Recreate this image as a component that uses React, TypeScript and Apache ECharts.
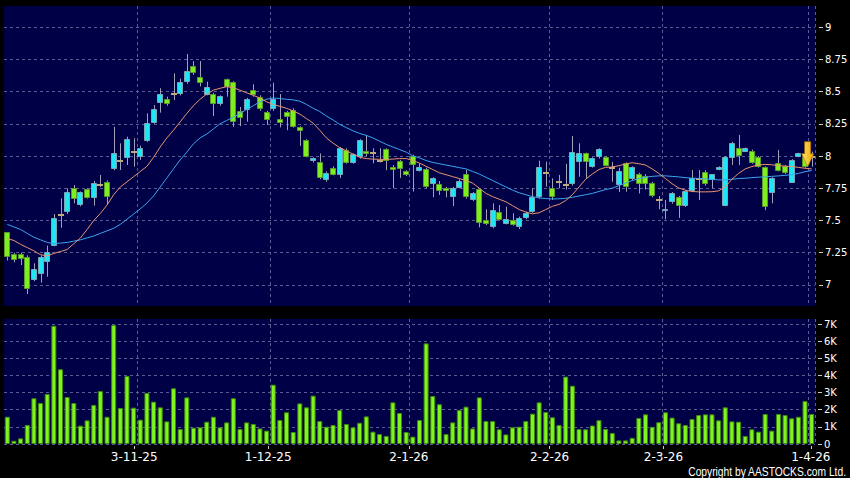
import React, { useEffect, useRef } from 'react';
import * as echarts from 'echarts';

// ---- trading days (categories) ----
const oct25 = [2, 3, 6, 8, 9, 10, 13, 14, 15, 16, 17, 20, 21, 22, 23, 24, 27, 28, 30, 31];
const nov25 = [3, 4, 5, 6, 7, 10, 11, 12, 13, 14, 17, 18, 19, 20, 21, 24, 25, 26, 27, 28];
const dec25 = [1, 2, 3, 4, 5, 8, 9, 10, 11, 12, 15, 16, 17, 18, 19, 22, 23, 24, 29, 30, 31];
const jan26 = [2, 5, 6, 7, 8, 9, 12, 13, 14, 15, 16, 19, 20, 21, 22, 23, 26, 27, 28, 29, 30];
const feb26 = [2, 3, 4, 5, 6, 9, 10, 11, 12, 13, 16, 20, 23, 24, 25, 26, 27];
const mar26 = [2, 3, 4, 5, 6, 9, 10, 11, 12, 13, 16, 17, 18, 19, 20, 23, 24, 25, 26, 27, 30, 31];
const apr26 = [1];

const categories: string[] = [
  ...oct25.map((d) => `${d}-10-25`),
  ...nov25.map((d) => `${d}-11-25`),
  ...dec25.map((d) => `${d}-12-25`),
  ...jan26.map((d) => `${d}-1-26`),
  ...feb26.map((d) => `${d}-2-26`),
  ...mar26.map((d) => `${d}-3-26`),
  ...apr26.map((d) => `${d}-4-26`),
];

const tickLabels = ['3-11-25', '1-12-25', '2-1-26', '2-2-26', '2-3-26', '1-4-26'];
const priceTicks = [7, 7.25, 7.5, 7.75, 8, 8.25, 8.5, 8.75, 9];
const volTicks = [0, 1000, 2000, 3000, 4000, 5000, 6000, 7000];

// ---- OHLC ----
const opens = [
  7.408, 7.238, 7.24, 7.22, 7.039, 7.085, 7.176, 7.302, 7.545, 7.563,
  7.754, 7.618, 7.744, 7.674, 7.775, 7.801, 7.897, 7.964, 7.982, 8.034,
  7.995, 8.114, 8.253, 8.408, 8.44, 8.478, 8.481, 8.571, 8.7, 8.615,
  8.475, 8.478, 8.4, 8.595, 8.571, 8.351, 8.357, 8.512, 8.46, 8.339,
  8.362, 8.287, 8.339, 8.357, 8.227, 8.124, 7.959, 7.956, 7.814, 7.91,
  7.853, 8.047, 7.949, 7.99, 8.041, 8.021, 7.959, 8.052, 7.912, 7.964,
  7.884, 8.0, 7.884, 7.897, 7.783, 7.783, 7.754, 7.685, 7.754, 7.858,
  7.659, 7.742, 7.504, 7.447, 7.568, 7.473, 7.504, 7.447, 7.517, 7.568,
  7.68, 7.87, 7.75, 7.8, 7.775, 7.783, 7.956, 8.021, 7.917, 7.99,
  7.99, 7.905, 7.775, 7.943, 7.819, 7.858, 7.847, 7.788, 7.659, 7.574,
  7.641, 7.685, 7.612, 7.729, 7.819, 7.878, 7.814, 7.891, 7.615, 7.987,
  8.06, 8.034, 8.041, 7.995, 7.912, 7.711, 7.948, 7.922, 7.793, 7.995,
  7.995, 7.995,
];
const closes = [
  7.22, 7.194, 7.2, 6.967, 7.122, 7.22, 7.258, 7.517, 7.545, 7.718,
  7.667, 7.718, 7.674, 7.788, 7.775, 7.68, 8.021, 7.964, 8.129, 8.034,
  8.06, 8.253, 8.362, 8.478, 8.4, 8.478, 8.576, 8.662, 8.641, 8.564,
  8.537, 8.4, 8.465, 8.532, 8.266, 8.292, 8.44, 8.473, 8.362, 8.279,
  8.44, 8.253, 8.305, 8.227, 8.196, 7.995, 7.984, 7.827, 7.871, 7.853,
  8.06, 7.949, 8.016, 8.124, 8.013, 8.021, 7.959, 7.964, 7.891, 7.897,
  7.853, 7.93, 7.917, 7.757, 7.827, 7.729, 7.729, 7.754, 7.809, 7.68,
  7.711, 7.478, 7.473, 7.581, 7.504, 7.509, 7.465, 7.517, 7.561, 7.685,
  7.912, 7.87, 7.685, 7.8, 7.775, 8.029, 8.021, 7.951, 7.982, 8.052,
  7.925, 7.905, 7.884, 7.762, 7.917, 7.78, 7.783, 7.69, 7.659, 7.587,
  7.711, 7.612, 7.729, 7.827, 7.819, 7.783, 7.858, 7.917, 7.99, 8.098,
  8.0, 8.06, 7.948, 7.917, 7.607, 7.827, 7.886, 7.866, 7.969, 8.021,
  7.917, 7.995,
];
const lows = [
  7.19, 7.176, 7.155, 6.93, 7.03, 7.018, 7.064, 7.3, 7.444, 7.55,
  7.633, 7.61, 7.67, 7.615, 7.76, 7.628, 7.89, 7.891, 7.93, 7.917,
  7.97, 8.11, 8.25, 8.336, 8.39, 8.434, 8.47, 8.56, 8.63, 8.54,
  8.47, 8.31, 8.39, 8.46, 8.227, 8.232, 8.266, 8.46, 8.35, 8.24,
  8.35, 8.222, 8.2, 8.22, 8.078, 7.99, 7.95, 7.82, 7.8, 7.85,
  7.83, 7.94, 7.94, 7.98, 8.0, 7.943, 7.95, 7.89, 7.75, 7.83,
  7.845, 7.724, 7.88, 7.75, 7.68, 7.698, 7.68, 7.612, 7.75, 7.67,
  7.65, 7.447, 7.465, 7.44, 7.5, 7.47, 7.46, 7.434, 7.51, 7.56,
  7.67, 7.762, 7.659, 7.75, 7.74, 7.77, 7.84, 7.827, 7.91, 7.98,
  7.92, 7.8, 7.72, 7.723, 7.81, 7.71, 7.74, 7.68, 7.587, 7.509,
  7.63, 7.52, 7.605, 7.72, 7.659, 7.77, 7.75, 7.89, 7.61, 7.93,
  7.93, 8.03, 7.94, 7.91, 7.58, 7.633, 7.88, 7.86, 7.79, 7.99,
  7.91, 7.917,
];
const highs = [
  7.41, 7.25, 7.25, 7.23, 7.168, 7.23, 7.305, 7.55, 7.672, 7.749,
  7.775, 7.725, 7.75, 7.806, 7.853, 7.81, 8.227, 8.098, 8.15, 8.137,
  8.08, 8.331, 8.395, 8.525, 8.46, 8.641, 8.6, 8.791, 8.736, 8.736,
  8.576, 8.49, 8.47, 8.6, 8.58, 8.38, 8.45, 8.556, 8.47, 8.35,
  8.568, 8.48, 8.35, 8.37, 8.23, 8.13, 7.99, 8.02, 7.88, 7.92,
  8.07, 8.06, 8.02, 8.13, 8.163, 8.06, 8.06, 8.06, 7.93, 7.97,
  7.89, 8.01, 7.943, 7.91, 7.835, 7.806, 7.76, 7.76, 7.82, 7.891,
  7.72, 7.75, 7.587, 7.633, 7.62, 7.607, 7.556, 7.53, 7.57, 7.75,
  7.964, 7.956, 7.827, 7.853, 7.94, 8.155, 8.098, 8.026, 7.99, 8.06,
  8.0, 7.953, 7.91, 7.95, 7.92, 7.87, 7.86, 7.8, 7.69, 7.659,
  7.72, 7.69, 7.735, 7.891, 7.891, 7.89, 7.86, 7.92, 8.0, 8.11,
  8.163, 8.065, 8.05, 8.0, 7.92, 7.835, 8.047, 7.93, 7.975, 8.025,
  8.0, 8.034,
];

// ---- moving averages ----
const maShort = [
  7.36, 7.345, 7.315, 7.29, 7.265, 7.235, 7.225, 7.245, 7.26, 7.275,
  7.32, 7.365, 7.43, 7.5, 7.555, 7.62, 7.7, 7.76, 7.8, 7.84,
  7.88, 7.92, 7.99, 8.07, 8.14, 8.2, 8.265, 8.33, 8.39, 8.44,
  8.48, 8.51, 8.525, 8.537, 8.53, 8.51, 8.49, 8.47, 8.45, 8.42,
  8.4, 8.385, 8.37, 8.35, 8.325, 8.29, 8.255, 8.2, 8.14, 8.1,
  8.065, 8.04, 8.015, 7.99, 7.98, 7.976, 7.974, 7.974, 7.976, 7.98,
  7.98, 7.965, 7.945, 7.92, 7.895, 7.87, 7.855, 7.84, 7.825, 7.81,
  7.79, 7.75, 7.71, 7.685, 7.665, 7.645, 7.615, 7.585, 7.565, 7.552,
  7.56, 7.585, 7.61, 7.625, 7.655, 7.7, 7.76, 7.82, 7.86, 7.895,
  7.912, 7.915, 7.925, 7.938, 7.948, 7.94, 7.93, 7.9, 7.865, 7.825,
  7.785, 7.752, 7.735, 7.725, 7.722, 7.722, 7.723, 7.73, 7.76, 7.82,
  7.865, 7.9, 7.918, 7.93, 7.935, 7.932, 7.925, 7.922, 7.918, 7.912,
  7.905, 7.9,
];
const maLong = [
  7.47, 7.45, 7.43, 7.4, 7.37, 7.35, 7.33, 7.32, 7.325, 7.33,
  7.34, 7.35, 7.365, 7.38, 7.4, 7.42, 7.44, 7.47, 7.51, 7.55,
  7.59, 7.635, 7.69, 7.76, 7.83, 7.9, 7.97, 8.03, 8.095, 8.14,
  8.17, 8.21, 8.25, 8.275, 8.3, 8.33, 8.36, 8.39, 8.42, 8.44,
  8.45, 8.445, 8.44, 8.435, 8.425, 8.4, 8.37, 8.345, 8.31, 8.28,
  8.245, 8.22, 8.195, 8.175, 8.16, 8.14, 8.115, 8.09, 8.07, 8.05,
  8.03, 8.0, 7.985, 7.965, 7.95, 7.94, 7.93, 7.92, 7.91, 7.9,
  7.88, 7.86, 7.835, 7.81, 7.785, 7.76, 7.735, 7.715, 7.7, 7.685,
  7.675, 7.67, 7.667, 7.668, 7.672, 7.68, 7.69, 7.7, 7.71, 7.725,
  7.74, 7.75, 7.77, 7.79, 7.81, 7.825, 7.835, 7.842, 7.846, 7.846,
  7.842, 7.838, 7.832, 7.828, 7.826, 7.822, 7.818, 7.815, 7.815, 7.82,
  7.825, 7.828, 7.832, 7.836, 7.838, 7.842, 7.846, 7.85, 7.855, 7.865,
  7.878, 7.888,
];

// ---- volume ----
const volumes = [
  1590, 190, 330, 1110, 2670, 2390, 2920, 6900, 4360, 2740,
  2390, 1070, 1380, 2280, 3090, 1590, 6940, 2100, 3970, 2120,
  1420, 2980, 2470, 2140, 1320, 3250, 875, 2720, 950, 970,
  1300, 1590, 970, 1260, 2670, 875, 1260, 1170, 910, 780,
  3460, 1400, 1850, 700, 2370, 2140, 2820, 1340, 1010, 1110,
  1980, 1170, 970, 1240, 1610, 720, 580, 470, 2430, 1810,
  700, 430, 1400, 5870, 2800, 2320, 580, 1260, 1980, 2180,
  910, 2720, 1340, 1340, 860, 560, 970, 1010, 1340, 1770,
  2430, 1870, 1560, 1110, 3930, 3400, 870, 860, 1080, 1390,
  880, 640, 210, 210, 360, 1520, 1730, 1000, 1270, 1850,
  1540, 1210, 1110, 1460, 1690, 1730, 1730, 1380, 2140, 1320,
  1300, 470, 860, 720, 1750, 780, 1750, 1690, 1500, 1590,
  2510, 1750,
];

const lastMarkerPrice = 8.014;

const NAVY = '#000046';
const GRID = '#5c5c94';
const UP_FILL = '#1fe6f4';
const UP_STROKE = '#7aa6b6';
const DOWN_FILL = '#7fee1e';
const DOWN_STROKE = '#5a9c2a';
const DOJI = '#c0aa78';
const WICK = '#a0a0b8';
const FONT = 'DejaVu Sans';

export default function App() {
  const ref = useRef<HTMLDivElement>(null);

  useEffect(() => {
    if (!ref.current) return;
    const chart = echarts.init(ref.current, null, { renderer: 'svg' });
    const tickIndex = tickLabels.map((t) => categories.indexOf(t));
    const candleData = opens.map((o, i) => [i, o, closes[i], lows[i], highs[i]]);
    const dashed = { color: GRID, type: [3, 3] as any, width: 1 };

    const renderCandle = (params: any, api: any) => {
      const i = api.value(0);
      const o = api.value(1);
      const c = api.value(2);
      const l = api.value(3);
      const h = api.value(4);
      const pO = api.coord([i, o]);
      const pC = api.coord([i, c]);
      const pL = api.coord([i, l]);
      const pH = api.coord([i, h]);
      const xc = Math.round(pO[0]);
      const children: any[] = [
        {
          type: 'line',
          shape: { x1: xc + 0.5, y1: pH[1], x2: xc + 0.5, y2: pL[1] },
          style: { stroke: WICK, lineWidth: 1 },
        },
      ];
      if (o === c) {
        children.push({
          type: 'rect',
          shape: { x: xc - 3, y: Math.round(pO[1]) - 1, width: 6, height: 2 },
          style: { fill: DOJI },
        });
      } else {
        const top = Math.round(Math.min(pO[1], pC[1]));
        const bot = Math.round(Math.max(pO[1], pC[1]));
        const up = c > o;
        children.push({
          type: 'rect',
          shape: { x: xc - 2.5, y: top + 0.5, width: 5, height: Math.max(1, bot - top - 1) },
          style: { fill: up ? UP_FILL : DOWN_FILL, stroke: up ? UP_STROKE : DOWN_STROKE, lineWidth: 1 },
        });
      }
      return { type: 'group', children };
    };

    const option: any = {
      animation: false,
      backgroundColor: '#000000',
      grid: [
        { left: 4, top: 6, width: 811, height: 300, show: true, backgroundColor: NAVY, borderWidth: 0, outerBoundsMode: 'none' },
        { left: 4, top: 319, width: 811, height: 125, show: true, backgroundColor: NAVY, borderWidth: 0, outerBoundsMode: 'none' },
      ],
      xAxis: [
        {
          type: 'category', gridIndex: 0, data: categories, boundaryGap: true,
          axisLine: { show: false }, axisTick: { show: false }, axisLabel: { show: false },
          splitLine: { show: true, interval: (idx: number) => tickIndex.includes(idx), lineStyle: dashed },
        },
        {
          type: 'category', gridIndex: 1, data: categories, boundaryGap: true,
          axisLine: { show: false }, axisTick: { show: false }, axisLabel: { show: false },
          splitLine: { show: true, interval: (idx: number) => tickIndex.includes(idx), lineStyle: dashed },
        },
        {
          type: 'value', gridIndex: 1, position: 'bottom', offset: 2,
          min: 0.564, max: 121.624,
          axisLine: { show: false },
          axisTick: { show: true, customValues: tickIndex, length: 3, lineStyle: { color: '#cccccc' } },
          axisLabel: {
            customValues: tickIndex, color: '#ffffff', fontSize: 12, fontFamily: FONT, margin: 5,
            formatter: (v: number) => tickLabels[tickIndex.indexOf(Math.round(v))] || '',
          },
          splitLine: { show: false },
        },
      ],
      yAxis: [
        {
          type: 'value', gridIndex: 0, position: 'right', offset: 4,
          min: 6.8372, max: 9.1628,
          axisLine: { show: false },
          axisTick: { show: true, customValues: priceTicks, length: 4, lineStyle: { color: '#cccccc' } },
          axisLabel: { customValues: priceTicks, color: '#ffffff', fontSize: 10, fontFamily: FONT, margin: 6, formatter: (v: number) => String(v) },
          splitLine: { show: true, lineStyle: dashed },
        },
        {
          type: 'value', gridIndex: 1, position: 'right', offset: 3,
          min: 0, max: 7291.7,
          axisLine: { show: false },
          axisTick: { show: true, customValues: volTicks, length: 4, lineStyle: { color: '#cccccc' } },
          axisLabel: {
            customValues: volTicks, color: '#ffffff', fontSize: 10, fontFamily: FONT, margin: 6,
            formatter: (v: number) => (v === 0 ? '0' : `${Math.round(v / 1000)}K`),
          },
          splitLine: { show: true, lineStyle: dashed },
        },
      ],
      series: [
        {
          type: 'custom', name: 'Price', xAxisIndex: 0, yAxisIndex: 0,
          data: candleData, encode: { x: 0, y: [1, 2, 3, 4] },
          renderItem: renderCandle, z: 2, clip: true,
        },
        {
          type: 'line', name: 'MA Short', xAxisIndex: 0, yAxisIndex: 0, data: maShort,
          showSymbol: false, symbol: 'none', lineStyle: { color: '#eb9470', width: 1 }, z: 4,
          markPoint: {
            silent: true,
            symbol: 'path://M3,0L9,0L9,12L12,12L6,25L0,12L3,12Z',
            symbolSize: [12, 25],
            symbolOffset: [-4, 0],
            label: { show: false },
            itemStyle: {
              color: new echarts.graphic.LinearGradient(0, 0, 1, 0, [
                { offset: 0, color: '#ffe46a' },
                { offset: 1, color: '#f0a400' },
              ]),
              borderColor: '#b87800', borderWidth: 0.6,
            },
            data: [{ coord: [categories[categories.length - 1], lastMarkerPrice] }],
          },
        },
        {
          type: 'line', name: 'MA Long', xAxisIndex: 0, yAxisIndex: 0, data: maLong,
          showSymbol: false, symbol: 'none', lineStyle: { color: '#3aa6ee', width: 1 }, z: 3,
        },
        {
          type: 'bar', name: 'Volume', xAxisIndex: 1, yAxisIndex: 1, data: volumes,
          barWidth: 5, itemStyle: { color: '#80f41e', borderColor: '#3d8a0c', borderWidth: 1 }, z: 2,
        },
      ],
      graphic: [
        {
          type: 'text', x: 846, y: 471, z: 10, scaleX: 0.79,
          style: {
            text: 'Copyright by AASTOCKS.com Ltd.', fill: '#ffffff',
            font: '13px "Liberation Sans", Arial, sans-serif',
            align: 'right', verticalAlign: 'middle',
          },
        },
      ],
    };
    chart.setOption(option);
    return () => chart.dispose();
  }, []);

  return (
    <div
      ref={ref}
      style={{ position: 'absolute', left: 0, top: 0, width: 850, height: 478, background: '#000' }}
    />
  );
}
